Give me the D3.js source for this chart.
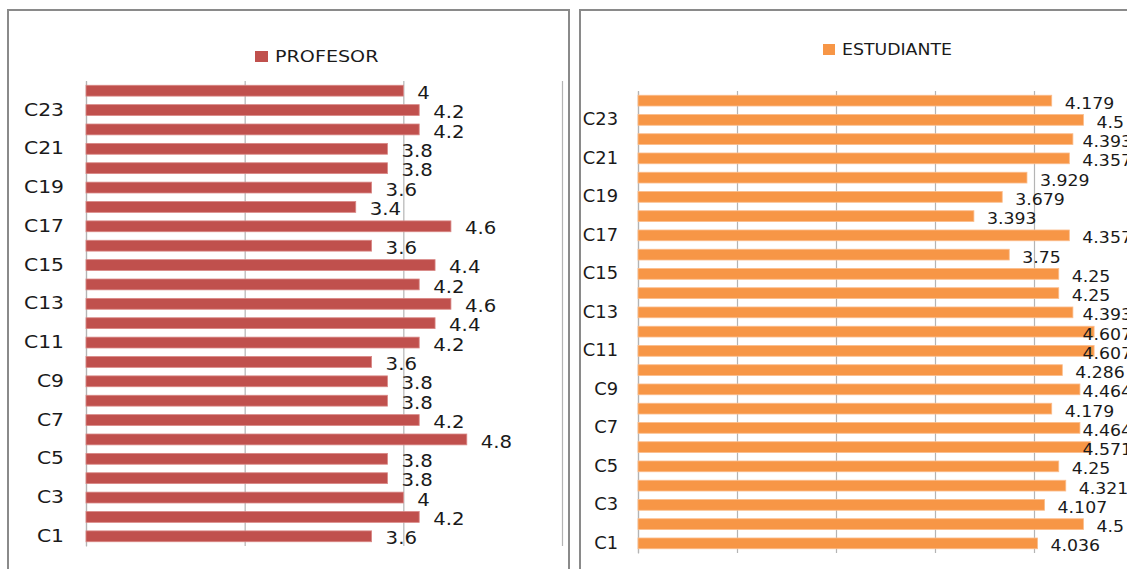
<!DOCTYPE html>
<html><head><meta charset="utf-8">
<script src="https://cdn.jsdelivr.net/npm/d3@7"></script>
<style>body{margin:0;background:#fff}svg{display:block}</style>
</head><body>
<svg id="c" width="1127" height="569"></svg>
<script>
const categories = ["C1","C2","C3","C4","C5","C6","C7","C8","C9","C10","C11","C12",
  "C13","C14","C15","C16","C17","C18","C19","C20","C21","C22","C23","C24"];
const tickLabels = ["C1","C3","C5","C7","C9","C11","C13","C15","C17","C19","C21","C23"];
const profesorValues = [3.6,4.2,4,3.8,3.8,4.8,4.2,3.8,3.8,3.6,4.2,4.4,
  4.6,4.2,4.4,3.6,4.6,3.4,3.6,3.8,3.8,4.2,4.2,4];
const estudianteValues = [4.036,4.5,4.107,4.321,4.25,4.571,4.464,4.179,4.464,4.286,4.607,4.607,
  4.393,4.25,4.25,3.75,4.357,3.393,3.679,3.929,4.357,4.393,4.5,4.179];
const seriesNames = ["PROFESOR","ESTUDIANTE"];
const profesorGrid = [0,2,4,6];
const estudianteGrid = [0,1,2,3,4,5];

const svg = d3.select("#c");
const FONT = "'DejaVu Sans', sans-serif";
const TEXT = "#1a1a1a";

// panel frames
svg.append("rect").attr("x",8).attr("y",10).attr("width",561).attr("height",620)
  .attr("fill","none").attr("stroke","#8a8a8a").attr("stroke-width",2);
svg.append("rect").attr("x",580).attr("y",10).attr("width",620).attr("height",620)
  .attr("fill","none").attr("stroke","#8a8a8a").attr("stroke-width",2);

function panel(cfg){
  const g = svg.append("g");
  const x = d3.scaleLinear().domain(cfg.domain).range([cfg.left, cfg.right]);
  const y = d3.scaleBand().domain(categories.slice().reverse())
    .range([cfg.top, cfg.bottom]).paddingInner(0.44).paddingOuter(0.22);
  const sx = cfg.sx;

  // gridlines
  const grid = g.append("g").attr("transform",`translate(0,${cfg.top})`)
    .call(d3.axisBottom(x).tickValues(cfg.grid).tickSize(cfg.bottom-cfg.top).tickFormat(""));
  grid.select(".domain").remove();
  grid.selectAll(".tick line").attr("stroke","#b4b4b4").attr("stroke-width",1.2);

  // category axis
  const ax = g.append("g").attr("transform",`translate(${cfg.left},0)`)
    .call(d3.axisLeft(y).tickValues(tickLabels).tickSize(0).tickPadding(cfg.pad));
  ax.select(".domain").attr("stroke","#b4b4b4").attr("stroke-width",1.2);
  ax.selectAll(".tick text")
    .attr("x", -cfg.pad/sx)
    .attr("transform",`scale(${sx},1)`)
    .attr("font-family",FONT).attr("font-size",cfg.catSize).attr("fill",TEXT);

  // bars
  g.append("g").selectAll("rect").data(cfg.values).join("rect")
    .attr("x", x(0))
    .attr("y", (d,i)=>y(categories[i]))
    .attr("width", d=>x(d)-x(0))
    .attr("height", y.bandwidth())
    .attr("fill", cfg.color)
    .attr("stroke", cfg.edge).attr("stroke-width",0.8);

  // data labels (kept inside the chart area, as the spreadsheet does)
  const labs = g.append("g").selectAll("text").data(cfg.values).join("text")
    .attr("dy","0.36em")
    .attr("font-family",FONT).attr("font-size",cfg.labSize).attr("fill",TEXT)
    .text(d=>d);
  labs.each(function(d,i){
    const w = this.getComputedTextLength()*sx;
    const lx = Math.min(x(d)+cfg.labOff, cfg.labMax - w);
    d3.select(this).attr("transform",
      `translate(${lx},${y(categories[i])+y.bandwidth()/2+2}) scale(${sx},1)`);
  });

  // legend
  const lg = g.append("g");
  lg.append("rect").attr("x",cfg.legX).attr("y",cfg.legY-11)
    .attr("width",cfg.legW).attr("height",11).attr("fill",cfg.color);
  lg.append("text")
    .attr("transform",`translate(${cfg.legX+cfg.legW+7},${cfg.legY}) scale(${sx},1)`)
    .attr("font-family",FONT).attr("font-size",16.5).attr("fill",TEXT)
    .text(cfg.name);
}

panel({
  values: profesorValues, name: seriesNames[0], color:"#C0504D", edge:"#d98886",
  domain:[0,6], grid: profesorGrid, left:86, right:562, top:81, bottom:546,
  sx:1.16, pad:22, catSize:17.5, labSize:17, labOff:14, labMax:9999,
  legX:255, legY:62, legW:13
});
panel({
  values: estudianteValues, name: seriesNames[1], color:"#F79646", edge:"#fbbd8c",
  domain:[0,5], grid: estudianteGrid, left:638, right:1133, top:91, bottom:553,
  sx:1.05, pad:20, catSize:17, labSize:16.5, labOff:13, labMax:1132,
  legX:823, legY:55, legW:12
});
</script>
</body></html>
